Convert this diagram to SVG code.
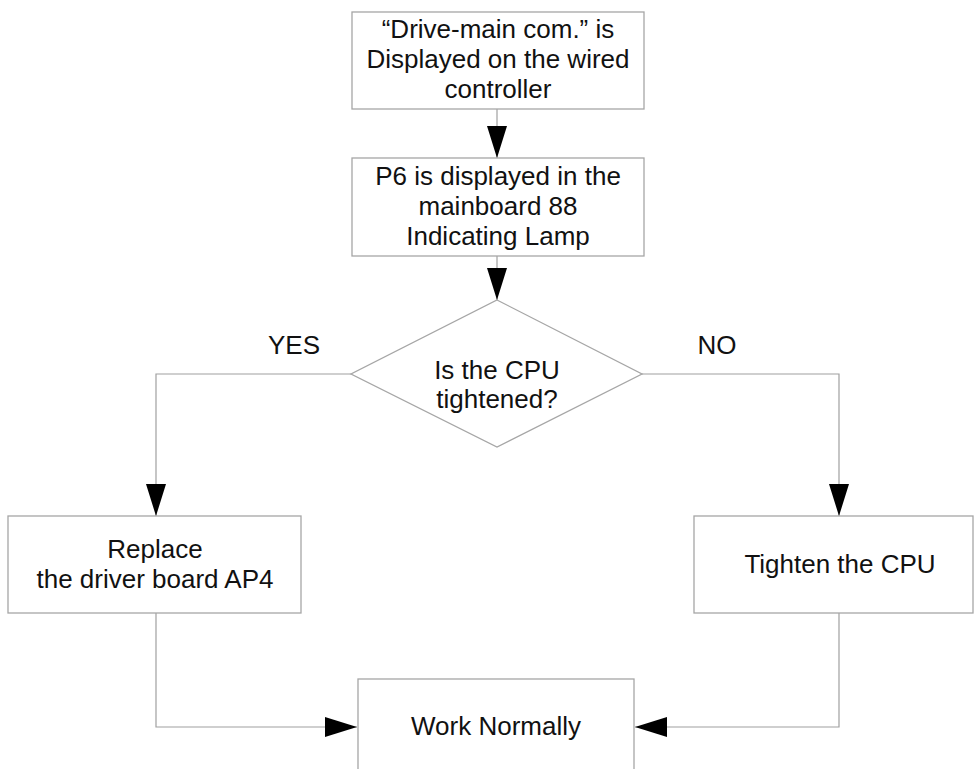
<svg xmlns="http://www.w3.org/2000/svg" width="974" height="769" viewBox="0 0 974 769">
<style>
.box{fill:#fff;stroke:#a6a6a6;stroke-width:1.3}
.ln{fill:none;stroke:#a0a0a0;stroke-width:1.2}
text{font-family:"Liberation Sans",Arial,sans-serif;font-size:26px;fill:#111;text-anchor:middle}
</style>
<defs>
<marker id="ah" markerWidth="32" markerHeight="20" refX="32" refY="10" orient="auto" markerUnits="userSpaceOnUse">
<path d="M0,0 L32,10 L0,20 Z" fill="#000"/>
</marker>
</defs>
<rect width="974" height="769" fill="#fff"/>
<g id="connectors">
<line class="ln" x1="497" y1="109" x2="497" y2="158" marker-end="url(#ah)"/>
<line class="ln" x1="497" y1="256" x2="497" y2="300" marker-end="url(#ah)"/>
<polyline class="ln" points="351,374 156,374 156,516" marker-end="url(#ah)"/>
<polyline class="ln" points="642,374 839,374 839,516" marker-end="url(#ah)"/>
<polyline class="ln" points="156,613 156,727 357,727" marker-end="url(#ah)"/>
<polyline class="ln" points="839,613 839,727 635,727" marker-end="url(#ah)"/>
<text x="294" y="354">YES</text>
<text x="717" y="354">NO</text>
</g>
<g id="n1">
<rect class="box" x="352" y="12" width="292" height="97"/>
<text x="498" y="38">“Drive-main com.” is</text>
<text x="498" y="68">Displayed on the wired</text>
<text x="498" y="98">controller</text>
</g>
<g id="n2">
<rect class="box" x="352" y="158" width="292" height="98"/>
<text x="498" y="185">P6 is displayed in the</text>
<text x="498" y="215">mainboard 88</text>
<text x="498" y="245">Indicating Lamp</text>
</g>
<g id="n3">
<polygon class="box" points="497,300 642,374 497,447 351,374"/>
<text x="497" y="379">Is the CPU</text>
<text x="497" y="408">tightened?</text>
</g>
<g id="n4">
<rect class="box" x="8" y="516" width="293" height="97"/>
<text x="155" y="558">Replace</text>
<text x="155" y="588">the driver board AP4</text>
</g>
<g id="n5">
<rect class="box" x="694" y="516" width="279" height="97"/>
<text x="840" y="573">Tighten the CPU</text>
</g>
<g id="n6">
<rect class="box" x="358" y="679" width="276" height="100"/>
<text x="496" y="735">Work Normally</text>
</g>
</svg>
